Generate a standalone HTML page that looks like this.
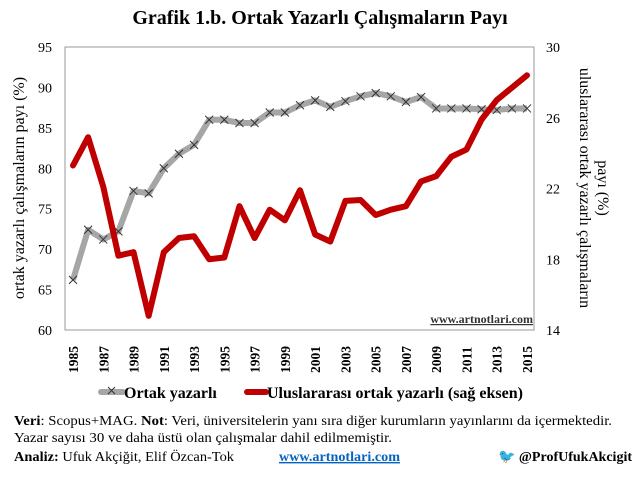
<!DOCTYPE html>
<html><head><meta charset="utf-8"><style>
body{margin:0;background:#fff;width:639px;height:474px;overflow:hidden;font-family:"Liberation Serif",serif;}
</style></head><body>
<svg width="639" height="474" xmlns="http://www.w3.org/2000/svg" font-family="Liberation Serif, serif">
<text x="320" y="24" text-anchor="middle" font-size="20" font-weight="bold">Grafik 1.b. Ortak Yazarlı Çalışmaların Payı</text>
<rect x="65" y="47" width="469" height="283" fill="#fff" stroke="#999" stroke-width="1"/>
<g id="ticks"></g>
<g id="series"></g>
<text x="533" y="323" text-anchor="end" font-size="12" font-weight="bold" fill="#333" text-decoration="underline">www.artnotlari.com</text>
<text transform="translate(24,188) rotate(-90)" text-anchor="middle" font-size="16">ortak yazarlı çalışmaların payı (%)</text>
<text transform="translate(580,188) rotate(90)" text-anchor="middle" font-size="16">uluslararası ortak yazarlı çalışmaların</text>
<text transform="translate(598,188) rotate(90)" text-anchor="middle" font-size="16">payı (%)</text>
<g>
<line x1="101" y1="392" x2="123" y2="392" stroke="#a6a6a6" stroke-width="6" stroke-linecap="round"/>
<path d="M108,387 l7,7 M115,387 l-7,7" stroke="#333" stroke-width="1"/>
<text x="124" y="398" font-size="16" font-weight="bold">Ortak yazarlı</text>
<line x1="247" y1="392" x2="266" y2="392" stroke="#c00000" stroke-width="6" stroke-linecap="round"/>
<text x="267" y="398" font-size="16" font-weight="bold">Uluslararası ortak yazarlı (sağ eksen)</text>
</g>
<text x="14" y="425" font-size="14" textLength="598" lengthAdjust="spacingAndGlyphs"><tspan font-weight="bold">Veri</tspan>: Scopus+MAG. <tspan font-weight="bold">Not</tspan>: Veri, üniversitelerin yanı sıra diğer kurumların yayınlarını da içermektedir.</text>
<text x="14" y="442" font-size="14" textLength="378" lengthAdjust="spacingAndGlyphs">Yazar sayısı 30 ve daha üstü olan çalışmalar dahil edilmemiştir.</text>
<text x="14" y="461" font-size="14" textLength="220" lengthAdjust="spacingAndGlyphs"><tspan font-weight="bold">Analiz:</tspan> Ufuk Akçiğit, Elif Özcan-Tok</text>
<text x="279" y="461" font-size="14" font-weight="bold" fill="#0563c1" text-decoration="underline" textLength="121" lengthAdjust="spacingAndGlyphs">www.artnotlari.com</text>
<text x="632" y="461" text-anchor="end" font-size="14" font-weight="bold"><tspan fill="#1da1f2">🐦</tspan> @ProfUfukAkcigit</text>
</svg>
<script>
const years=[1985,1986,1987,1988,1989,1990,1991,1992,1993,1994,1995,1996,1997,1998,1999,2000,2001,2002,2003,2004,2005,2006,2007,2008,2009,2010,2011,2012,2013,2014,2015];
const coauthShare=[66.2,72.4,71.2,72.2,77.2,76.9,80.0,81.8,82.9,86.0,86.0,85.6,85.6,86.9,86.9,87.8,88.4,87.6,88.3,88.9,89.3,88.9,88.2,88.8,87.4,87.4,87.4,87.3,87.2,87.4,87.4];
const intlShare=[23.3,24.9,22.1,18.2,18.4,14.8,18.4,19.2,19.3,18.0,18.1,21.0,19.2,20.8,20.2,21.9,19.4,19.0,21.3,21.35,20.5,20.8,21.0,22.4,22.7,23.8,24.2,25.9,27.0,27.7,28.4];
const leftTicks=[60,65,70,75,80,85,90,95];
const rightTicks=[14,18,22,26,30];
const NS="http://www.w3.org/2000/svg";
const X=y=>73+(y-1985)*(454/30);
const YL=v=>330-(v-60)*(283/35);
const YR=v=>330-(v-14)*(283/16);
function mk(tag,attrs,parent){const e=document.createElementNS(NS,tag);for(const k in attrs)e.setAttribute(k,attrs[k]);parent.appendChild(e);return e;}
const tg=document.getElementById('ticks');
leftTicks.forEach(v=>{const t=mk('text',{x:52,y:YL(v)+5,'text-anchor':'end','font-size':14},tg);t.textContent=v;

});
rightTicks.forEach(v=>{const t=mk('text',{x:546,y:YR(v)+5,'font-size':14},tg);t.textContent=v;

});
years.forEach(y=>{if((y-1985)%2)return;const x=X(y);const t=mk('text',{transform:`translate(${x+5},373) rotate(-90)`,'font-size':13.5,'font-weight':'bold'},tg);t.textContent=y;

});
const sg=document.getElementById('series');
const g1=mk('polyline',{points:years.map((y,i)=>X(y)+','+YL(coauthShare[i])).join(' '),fill:'none',stroke:'#a6a6a6','stroke-width':6,'stroke-linejoin':'round'},sg);


years.forEach((y,i)=>{const x=X(y),yy=YL(coauthShare[i]);const p=mk('path',{d:`M${x-4},${yy-4} l8,8 M${x+4},${yy-4} l-8,8`,stroke:'#333','stroke-width':1},sg);

});
const r1=mk('polyline',{points:years.map((y,i)=>X(y)+','+YR(intlShare[i])).join(' '),fill:'none',stroke:'#c00000','stroke-width':6,'stroke-linejoin':'round','stroke-linecap':'round'},sg);


</script>
</body></html>
